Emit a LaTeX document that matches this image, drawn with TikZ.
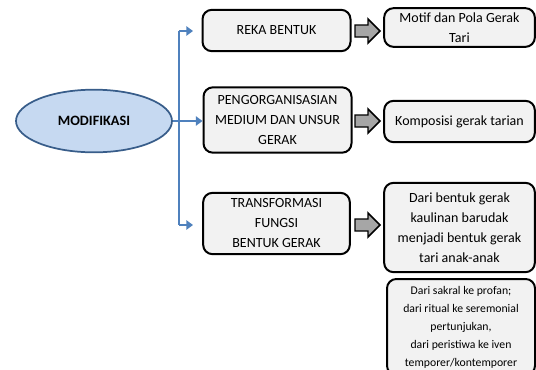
\documentclass[tikz,border=0pt]{standalone}
\usepackage{fontspec}
\setmainfont{Carlito}
\usetikzlibrary{arrows.meta,shapes.geometric}
\definecolor{ellfill}{HTML}{C6D9F1}
\definecolor{elldraw}{HTML}{385D8A}
\definecolor{lineblue}{HTML}{4F81BD}
\definecolor{boxfill}{HTML}{F2F2F2}
\definecolor{arrfill}{HTML}{A6A6A6}
\tikzset{
  rbox/.style={draw=black, line width=1.5pt, fill=boxfill, rounded corners=7pt, align=center, inner sep=0pt, font=\fontsize{10.5pt}{15pt}\selectfont},
  conn/.style={draw=lineblue, line width=1.5pt, -{Triangle[length=5pt,width=7pt]}},
  blockarrow/.style={draw=black, line width=1.1pt, fill=arrfill, line join=miter}
}
\begin{document}
\begin{tikzpicture}[x=0.75pt,y=-0.75pt]
\useasboundingbox (0,0) rectangle (536,369);
% ellipse
\node[draw=elldraw, line width=1.3pt, fill=ellfill, ellipse, minimum width=117pt, minimum height=47pt, inner sep=0pt, font=\fontsize{10.7pt}{12pt}\selectfont\bfseries] (mod) at (94,121) {MODIFIKASI};
% boxes
\node[rbox, minimum width=111pt, minimum height=31pt] (reka) at (276.5,30.5) {REKA BENTUK};
\node[rbox, minimum width=111pt, minimum height=49pt] (peng) at (277.5,120) {PENGORGANISASIAN\\MEDIUM DAN UNSUR\\GERAK};
\node[rbox, minimum width=110pt, minimum height=46pt] (trans) at (276.5,223.5) {TRANSFORMASI\\FUNGSI\\BENTUK GERAK};
\node[rbox, minimum width=113pt, minimum height=29pt] (motif) at (459.5,27.5) {Motif dan Pola Gerak\\Tari};
\node[rbox, minimum width=113pt, minimum height=31pt] (komp) at (459.5,121.5) {Komposisi gerak tarian};
\node[rbox, minimum width=113pt, minimum height=67pt] (dari) at (459.5,227.5) {Dari bentuk gerak\\kaulinan barudak\\menjadi bentuk gerak\\tari anak-anak};
\node[rbox, minimum width=111pt, minimum height=72pt, font=\fontsize{8.8pt}{13.5pt}\selectfont] (sakral) at (461,327) {Dari sakral ke profan;\\dari ritual ke seremonial\\pertunjukan,\\dari peristiwa ke iven\\temporer/kontemporer};
% connectors
\coordinate (top) at (179,31);
\coordinate (bot) at (179,225);
\coordinate (toptip) at (193,31);
\coordinate (bottip) at (193,225);
\draw[draw=lineblue, line width=1.5pt] (top) -- (bot);
\draw[conn] (top) -- (toptip);
\draw[conn] (mod.east) -- (peng.west |- mod.east);
\draw[conn] (bot) -- (bottip);
% block arrows
\foreach \yy/\nm in {31/a1,121/a2,225/a3}{
  \draw[blockarrow] (355,\yy-6) -- (368,\yy-6) -- (368,\yy-12) -- (380,\yy) -- (368,\yy+12) -- (368,\yy+6) -- (355,\yy+6) -- cycle;
}
\end{tikzpicture}
\end{document}
